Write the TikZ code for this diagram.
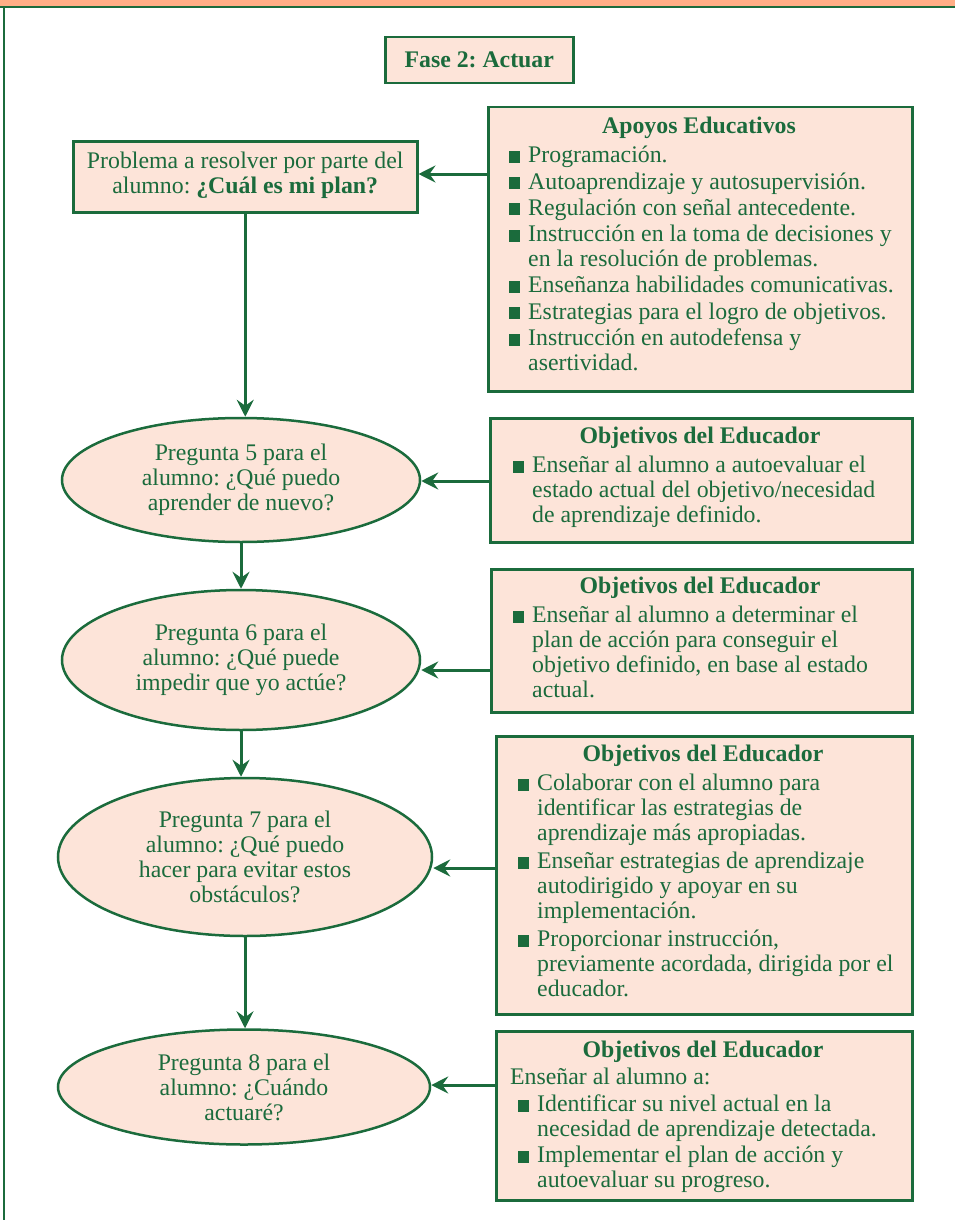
\documentclass[tikz,border=0pt]{standalone}
\usepackage{fontspec}
\setmainfont{Liberation Serif}
\usetikzlibrary{shapes.geometric,arrows.meta}
\definecolor{dg}{HTML}{1B6B3C}
\definecolor{pk}{HTML}{FDE4D9}
\definecolor{band}{HTML}{FFAE86}
\newcommand{\bul}{\makebox[19pt][l]{\textcolor{dg}{\rule[0pt]{11pt}{12pt}}}}
\newcommand{\ind}{\hspace*{19pt}}
\frenchspacing
\begin{document}
\begin{tikzpicture}[x=1pt,y=-1pt,
  txt/.style={text=dg,font=\fontsize{23.8}{25}\selectfont,inner sep=0pt},
  body/.style={txt,align=left,anchor=north west},
  ttl/.style={txt,font=\fontsize{23.8}{25}\selectfont\bfseries},
  box/.style={draw=dg,fill=pk,line width=2.5pt,rectangle,anchor=north west,inner sep=0pt},
  ell/.style={draw=dg,fill=pk,line width=2.5pt,ellipse,inner sep=0pt,txt,align=center},
  arr/.style={draw=dg,line width=3pt,-{Stealth[length=17pt,width=17pt,inset=6pt]}}]
\useasboundingbox (0,0) rectangle (955,1220);
\fill[band] (0,0) rectangle (955,7);
\draw[dg,line width=1.5pt] (0,7) -- (955,7);
\draw[dg,line width=1.5pt] (4,7) -- (4,1220);
% title
\node[box,minimum width=188pt,minimum height=46pt] (tbox) at (384,36) {};
\node[ttl] (ttext) at (tbox.center) {Fase 2: Actuar};
% problem box
\node[box,minimum width=344pt,minimum height=71pt] (prob) at (72,140) {};
\node[txt,align=center] (probt) at ([yshift=1pt]prob.center) {Problema a resolver por parte del\\alumno: \textbf{¿Cuál es mi plan?}};
% apoyos
\node[box,minimum width=424pt,minimum height=284pt] (apo) at (487,106) {};
\node[ttl] (apot) at (699,128) {Apoyos Educativos};
\node[body] (apob) at (509,146) {\bul Programación.\\[1.3pt]
\bul Autoaprendizaje y autosupervisión.\\[1.3pt]
\bul Regulación con señal antecedente.\\[1.3pt]
\bul Instrucción en la toma de decisiones y\\
\ind en la resolución de problemas.\\[1.3pt]
\bul Enseñanza habilidades comunicativas.\\[1.3pt]
\bul Estrategias para el logro de objetivos.\\[1.3pt]
\bul Instrucción en autodefensa y\\
\ind asertividad.};
% box 2
\node[box,minimum width=422pt,minimum height=124pt] (b2) at (489,417) {};
\node[ttl] (b2t) at (700,438) {Objetivos del Educador};
\node[body] (b2b) at (513,456) {\bul Enseñar al alumno a autoevaluar el\\
\ind estado actual del objetivo/necesidad\\
\ind de aprendizaje definido.};
% box 3
\node[box,minimum width=421pt,minimum height=143pt] (b3) at (490,568) {};
\node[ttl] (b3t) at (700,588) {Objetivos del Educador};
\node[body] (b3b) at (513,606) {\bul Enseñar al alumno a determinar el\\
\ind plan de acción para conseguir el\\
\ind objetivo definido, en base al estado\\
\ind actual.};
% box 4
\node[box,minimum width=416pt,minimum height=278pt] (b4) at (495,735) {};
\node[ttl] (b4t) at (703,756) {Objetivos del Educador};
\node[body] (b4b) at (518,774) {\bul Colaborar con el alumno para\\
\ind identificar las estrategias de\\
\ind aprendizaje más apropiadas.\\[3pt]
\bul Enseñar estrategias de aprendizaje\\
\ind autodirigido y apoyar en su\\
\ind implementación.\\[3pt]
\bul Proporcionar instrucción,\\
\ind previamente acordada, dirigida por el\\
\ind educador.};
% box 5
\node[box,minimum width=416pt,minimum height=169pt] (b5) at (495,1030) {};
\node[ttl] (b5t) at (703,1052) {Objetivos del Educador};
\node[body] (b5a) at (510,1068) {Enseñar al alumno a:};
\node[body] (b5b) at (518,1095) {\bul Identificar su nivel actual en la\\
\ind necesidad de aprendizaje detectada.\\[1pt]
\bul Implementar el plan de acción y\\
\ind autoevaluar su progreso.};
% ellipses
\node[ell,minimum width=358pt,minimum height=124pt] (e1) at (241,480) {Pregunta 5 para el\\alumno: ¿Qué puedo\\aprender de nuevo?};
\node[ell,minimum width=358pt,minimum height=140pt] (e2) at (241,660) {Pregunta 6 para el\\alumno: ¿Qué puede\\impedir que yo actúe?};
\node[ell,minimum width=374pt,minimum height=158pt] (e3) at (245,857) {Pregunta 7 para el\\alumno: ¿Qué puedo\\hacer para evitar estos\\obstáculos?};
\node[ell,minimum width=372pt,minimum height=115pt] (e4) at (244,1087) {Pregunta 8 para el\\alumno: ¿Cuándo\\actuaré?};
% arrows
\draw[arr] (apo.west |- 0,174) -- (prob.east |- 0,174);
\draw[arr] (b2.west |- 0,481) -- (e1.east |- 0,481);
\draw[arr] (b3.west |- 0,670) -- (e2.east |- 0,670);
\draw[arr] (b4.west |- 0,868) -- (e3.east |- 0,868);
\draw[arr] (b5.west |- 0,1085) -- (e4.east |- 0,1085);
\draw[arr] (prob.south) -- (prob.south |- e1.north);
\draw[arr] (e1.south) -- (e2.north);
\draw[arr] (e2.south) -- (e2.south |- e3.north);
\draw[arr] (e3.south) -- (e3.south |- e4.north);
\end{tikzpicture}
\end{document}
